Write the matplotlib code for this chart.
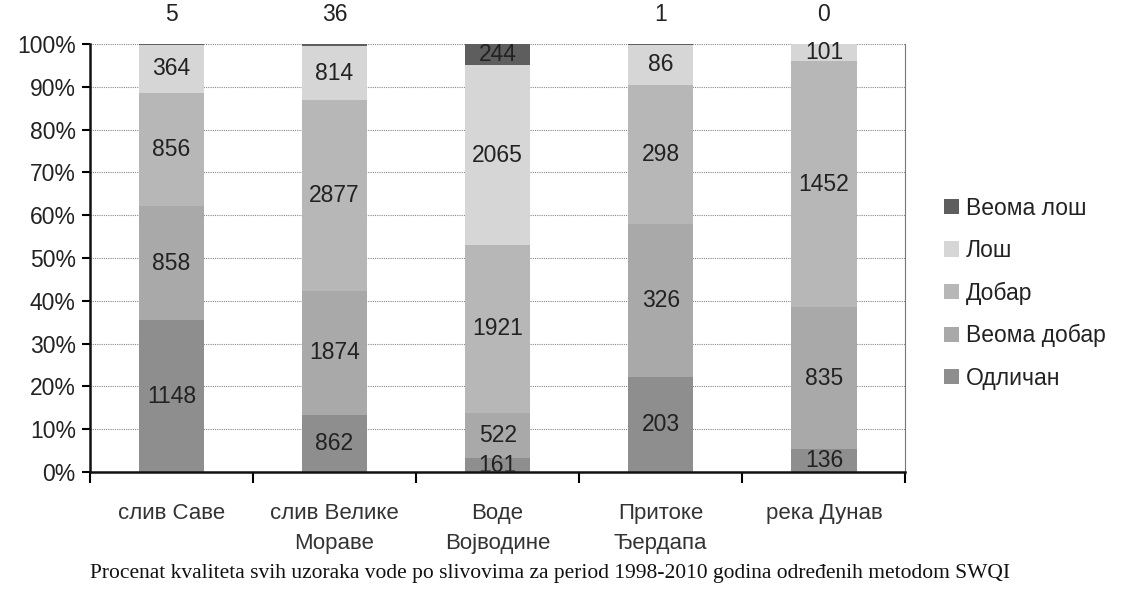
import matplotlib
matplotlib.use('Agg')
import matplotlib.pyplot as plt
import numpy as np

plt.rcParams['font.family'] = ['Liberation Sans', 'DejaVu Sans']

categories = ['слив Саве', 'слив Велике\nМораве', 'Воде\nВојводине', 'Притоке\nЂердапа', 'река Дунав']
series_names = ['Одличан', 'Веома добар', 'Добар', 'Лош', 'Веома лош']
odlican = [1148, 862, 161, 203, 136]
veoma_dobar = [858, 1874, 522, 326, 835]
dobar = [856, 2877, 1921, 298, 1452]
los = [364, 814, 2065, 86, 101]
veoma_los = [5, 36, 244, 1, 0]

colors = ['#8e8e8e', '#a9a9a9', '#b7b7b7', '#d6d6d6', '#5e5e5e']

counts = np.array([odlican, veoma_dobar, dobar, los, veoma_los], dtype=float)
totals = counts.sum(axis=0)
pct = counts / totals * 100

fig = plt.figure(figsize=(11.22, 5.96), dpi=100)
ax = fig.add_axes([0.080, 0.208, 0.727, 0.718])

x = np.arange(len(categories))
bottom = np.zeros(len(categories))
handles = []
for i, name in enumerate(series_names):
    h = ax.bar(x, pct[i], bottom=bottom, width=0.4, color=colors[i], label=name, zorder=2)
    handles.append(h)
    for j in range(len(categories)):
        val = int(counts[i, j])
        if i == 4 and pct[i, j] < 3:
            # tiny top segments: value goes above the bar
            ax.text(x[j], 107, str(val), ha='center', va='center', fontsize=16.5,
                    color='#222222', clip_on=False)
        else:
            ax.text(x[j], bottom[j] + pct[i, j] / 2, str(val), ha='center', va='center',
                    fontsize=16.5, color='#222222', zorder=3)
    bottom += pct[i]

ax.set_xlim(-0.5, len(categories) - 0.5)
ax.set_ylim(0, 100)
ax.set_yticks(np.arange(0, 101, 10))
ax.set_yticklabels(['%d%%' % v for v in range(0, 101, 10)], fontsize=16.5, color='#222222')
ax.yaxis.grid(True, linestyle=(0, (1, 1)), color='#888888', linewidth=0.8, zorder=0)

ax.set_xticks(x)
ax.set_xticklabels(categories, fontsize=16, color='#333333', linespacing=1.6)
ax.set_xticks(np.arange(-0.5, len(categories), 1), minor=True)
ax.tick_params(axis='x', which='major', length=0, pad=22)
ax.tick_params(axis='x', which='minor', length=8, width=1.5, direction='out')
ax.tick_params(axis='y', length=6, width=1.5, direction='out', pad=4)

for s in ['left', 'bottom']:
    ax.spines[s].set_linewidth(1.8)
    ax.spines[s].set_color('#111111')
ax.spines['top'].set_visible(False)
ax.spines['right'].set_color('#777777')
ax.spines['right'].set_linewidth(0.8)

leg = fig.legend(handles[::-1], series_names[::-1], loc='center left',
                 bbox_to_anchor=(0.823, 0.508), frameon=False, fontsize=16.5,
                 handlelength=0.65, handleheight=0.65, handletextpad=0.3, labelspacing=0.85)
for t in leg.get_texts():
    t.set_color('#222222')

fig.text(0.49, 0.038, 'Procenat kvaliteta svih uzoraka vode po slivovima za period 1998-2010 godina određenih metodom SWQI',
         ha='center', va='center', fontsize=15.5, family='Liberation Serif', color='#111111')

fig.savefig('out.png', dpi=100)
